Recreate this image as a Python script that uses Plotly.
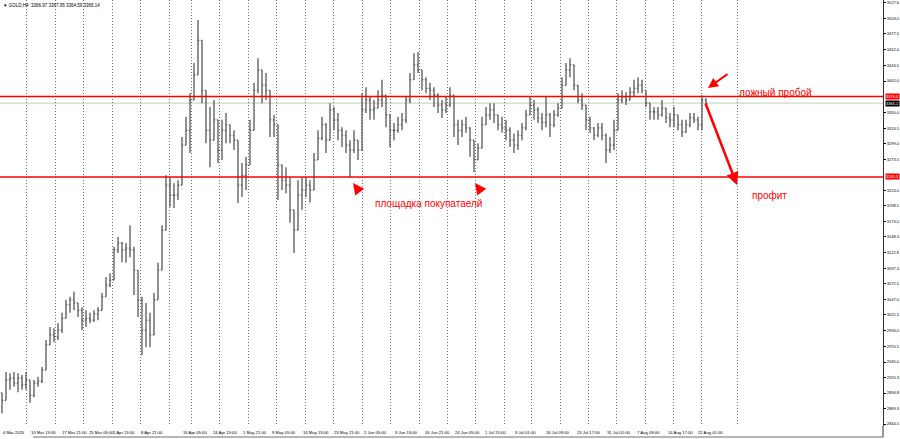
import plotly.graph_objects as go

# ---------------- data (GOLD, H4, 4 Mar 2025 - 22 Aug 2025) -------------
highs = [2888, 2929, 2927, 2929, 2927, 2924, 2929, 2911, 2916, 2921,
         2937, 2981, 3002, 3000, 3008, 3025, 3046, 3051, 3059, 3041,
         3034, 3029, 3025, 3029, 3034, 3057, 3083, 3089, 3132, 3148,
         3140, 3138, 3167, 3132, 3094, 3051, 3041, 3025, 3057, 3106,
         3167, 3248, 3245, 3235, 3240, 3310, 3343, 3381, 3430, 3500,
         3435, 3365, 3359, 3370, 3310, 3338, 3349, 3326, 3321, 3284,
         3268, 3278, 3338, 3398, 3438, 3414, 3414, 3365, 3346, 3300,
         3261, 3261, 3245, 3192, 3240, 3245, 3245, 3240, 3284, 3321,
         3343, 3333, 3365, 3359, 3349, 3326, 3321, 3305, 3321, 3305,
         3381, 3391, 3375, 3370, 3386, 3403, 3370, 3338, 3333, 3343,
         3349, 3375, 3414, 3446, 3448, 3414, 3407, 3398, 3391, 3381,
         3370, 3375, 3391, 3370, 3338, 3338, 3343, 3326, 3294, 3300,
         3343, 3359, 3365, 3365, 3343, 3343, 3338, 3326, 3316, 3321,
         3333, 3354, 3375, 3370, 3359, 3349, 3375, 3349, 3354, 3365,
         3407, 3430, 3438, 3424, 3391, 3381, 3349, 3343, 3326, 3333,
         3333, 3316, 3310, 3338, 3381, 3386, 3383, 3391, 3403, 3407,
         3403, 3386, 3365, 3359, 3359, 3370, 3354, 3349, 3359, 3343,
         3338, 3338, 3349, 3349, 3343, 3378, 3373]

lows = [2862, 2887, 2900, 2905, 2896, 2900, 2900, 2879, 2888, 2905,
        2911, 2932, 2976, 2977, 2981, 2992, 3018, 3025, 3029, 3018,
        2997, 3002, 3008, 3010, 3013, 3029, 3051, 3067, 3094, 3122,
        3107, 3106, 3115, 3054, 3018, 2956, 2969, 2969, 3018, 3046,
        3107, 3192, 3197, 3195, 3208, 3268, 3310, 3284, 3381, 3446,
        3365, 3300, 3261, 3310, 3268, 3273, 3300, 3300, 3289, 3203,
        3213, 3224, 3284, 3354, 3381, 3365, 3370, 3310, 3310, 3208,
        3224, 3219, 3171, 3122, 3171, 3192, 3213, 3204, 3235, 3284,
        3305, 3284, 3317, 3321, 3305, 3294, 3284, 3245, 3284, 3273,
        3326, 3349, 3338, 3338, 3359, 3359, 3326, 3294, 3305, 3317,
        3321, 3333, 3365, 3407, 3414, 3386, 3381, 3370, 3359, 3349,
        3341, 3349, 3359, 3310, 3297, 3310, 3317, 3278, 3253, 3273,
        3294, 3333, 3338, 3333, 3321, 3317, 3305, 3294, 3284, 3289,
        3305, 3321, 3349, 3338, 3333, 3321, 3326, 3310, 3326, 3343,
        3370, 3398, 3407, 3386, 3365, 3354, 3321, 3317, 3305, 3310,
        3305, 3268, 3284, 3289, 3343, 3365, 3362, 3370, 3375, 3381,
        3381, 3359, 3338, 3338, 3338, 3343, 3333, 3326, 3326, 3321,
        3310, 3317, 3326, 3333, 3321, 3321, 3362]

closes = [2883, 2916, 2919, 2911, 2919, 2908, 2916, 2891, 2911, 2914,
          2932, 2973, 2989, 2986, 2997, 3016, 3038, 3046, 3041, 3029,
          3013, 3016, 3013, 3023, 3029, 3051, 3070, 3078, 3127, 3138,
          3127, 3130, 3127, 3094, 3046, 2997, 3013, 2989, 3046, 3094,
          3159, 3232, 3216, 3216, 3232, 3297, 3321, 3370, 3411, 3467,
          3386, 3321, 3305, 3338, 3289, 3321, 3330, 3313, 3305, 3232,
          3248, 3265, 3321, 3386, 3419, 3394, 3386, 3338, 3330, 3265,
          3240, 3232, 3192, 3159, 3216, 3224, 3232, 3224, 3273, 3308,
          3330, 3305, 3354, 3338, 3321, 3313, 3297, 3289, 3305, 3289,
          3354, 3370, 3354, 3357, 3370, 3378, 3346, 3321, 3321, 3330,
          3338, 3370, 3403, 3427, 3419, 3403, 3389, 3386, 3378, 3362,
          3354, 3362, 3378, 3330, 3321, 3330, 3325, 3305, 3273, 3292,
          3330, 3346, 3354, 3346, 3330, 3325, 3321, 3305, 3297, 3313,
          3325, 3346, 3362, 3354, 3341, 3334, 3346, 3330, 3346, 3357,
          3394, 3419, 3427, 3394, 3370, 3362, 3338, 3325, 3313, 3325,
          3313, 3289, 3297, 3321, 3370, 3375, 3370, 3383, 3389, 3394,
          3386, 3365, 3351, 3351, 3346, 3357, 3341, 3338, 3346, 3330,
          3318, 3330, 3341, 3338, 3330, 3370, 3365.14]
first_open = 2895.0

time_labels = ["4 Mar 2025", "10 Mar 13:00", "17 Mar 21:00", "25 Mar 05:00", "1 Apr 13:00",
               "8 Apr 21:00", "16 Apr 05:00", "24 Apr 13:00", "1 May 21:00", "9 May 05:00",
               "16 May 13:00", "23 May 21:00", "2 Jun 05:00", "9 Jun 13:00", "16 Jun 21:00",
               "24 Jun 05:00", "1 Jul 13:00", "9 Jul 01:00", "16 Jul 09:00", "23 Jul 17:00",
               "31 Jul 01:00", "7 Aug 09:00", "14 Aug 17:00", "22 Aug 01:00"]

price_ticks = [3527.6, 3503.0, 3477.5, 3452.0, 3426.5, 3401.0, 3350.0, 3324.5, 3299.0,
               3273.5, 3224.0, 3198.5, 3173.0, 3148.3, 3122.8, 3097.3, 3072.5, 3047.0,
               3021.5, 2996.0, 2970.5, 2945.0, 2920.3, 2894.8, 2869.3, 2844.5]

resistance = 3376.0
support = 3245.3
last_price = 3365.14
title_text = "▼ GOLD,H4  3366.97 3367.95 3364.59 3365.14"

# ---------------- layout constants (screen geometry) ----------------
W, H = 900, 439
ML, MR, MT, MB = 0, 17, 0, 13
PW = W - ML - MR
PH = H - MT - MB
BAR_PX = 4.0                       # pixels per bar


def bx(px):
    """pixel column -> bar index coordinate"""
    return (px - BAR_PX / 2) / BAR_PX


label_px = [1, 29, 60, 87, 111, 139, 181, 211, 241, 270, 301, 332, 362, 393, 423,
            453, 483, 513, 544, 575, 605, 635, 666, 696]
grid_px = [26.7, 55, 83.3, 112.3, 140.7, 169, 191.3, 219.7, 248.3, 276.7, 305.3, 333.3,
           362, 390.3, 419, 447.3, 475.7, 504, 531.7, 560, 588.3, 616.7, 645, 673.3,
           701.7, 737]

y_lo, y_hi = 2841.3, 3532.4
PPX = (y_hi - y_lo) / PH           # price per pixel


def py(pix_y):
    return y_hi - pix_y * PPX


opens = [first_open] + closes[:-1]
hi = [max(h, o, c) for h, o, c in zip(highs, opens, closes)]
lo = [min(l, o, c) for l, o, c in zip(lows, opens, closes)]
idx = list(range(len(closes)))

RED = "#ff0000"
BAR = "#4a4a4a"
FONT = "Liberation Sans, Arial, sans-serif"

fig = go.Figure()
fig.add_trace(go.Ohlc(
    x=idx, open=opens, high=hi, low=lo, close=closes,
    increasing=dict(line=dict(color=BAR, width=1.2)),
    decreasing=dict(line=dict(color=BAR, width=1.2)),
    tickwidth=0.3, hoverinfo="skip", showlegend=False,
))

shapes = [
    dict(type="line", xref="paper", x0=0, x1=1, yref="y", y0=last_price, y1=last_price,
         line=dict(color="#c8c8c8", width=1), layer="below"),
    dict(type="line", xref="paper", x0=0, x1=1, yref="y", y0=resistance, y1=resistance,
         line=dict(color=RED, width=1.5)),
    dict(type="line", xref="paper", x0=0, x1=1, yref="y", y0=support, y1=support,
         line=dict(color=RED, width=1.5)),
    dict(type="line", xref="paper", x0=33 / PW, x1=1, yref="paper", y0=-11 / PH, y1=-11 / PH,
         line=dict(color="#707070", width=1)),
    dict(type="line", xref="paper", x0=1, x1=1, yref="paper", y0=-11 / PH, y1=0,
         line=dict(color="#303030", width=1)),
]

small = dict(family=FONT, size=4.2, color="#000000")
axis_font = dict(family=FONT, size=4.0, color="#000000")
big = dict(family=FONT, size=10, color=RED)

ann = []
for t, p in zip(time_labels, label_px):
    ann.append(dict(x=bx(p), xref="x", y=0, yref="paper", xanchor="left", yanchor="top",
                    yshift=-2, text=t, showarrow=False, font=small))

ann.append(dict(x=0, xref="paper", y=1, yref="paper", xanchor="left", yanchor="top",
                xshift=1, yshift=-1, text=title_text, showarrow=False,
                font=dict(family=FONT, size=4.5, color="#000000")))

# price tags on the right axis
for val, txt, bg in [(resistance, "3376.0", RED), (last_price, "3365.1", "#000000"),
                     (support, "3245.3", RED)]:
    ann.append(dict(x=1, xref="paper", y=val, yref="y", xanchor="left", yanchor="middle",
                    xshift=2, text=txt, showarrow=False, bgcolor=bg, borderpad=0,
                    font=dict(family=FONT, size=4.0, color="#ffffff")))

# texts
ann.append(dict(x=bx(737), y=py(92), xanchor="left", yanchor="middle", text="ложный пробой",
                showarrow=False, font=big))
ann.append(dict(x=bx(750), y=py(195), xanchor="left", yanchor="middle", text="профит",
                showarrow=False, font=big))
ann.append(dict(x=bx(373), y=py(203), xanchor="left", yanchor="middle",
                text="площадка покупатаелй", showarrow=False, font=big))

# arrows
ann.append(dict(x=bx(737), y=py(185), ax=-32, ay=-83, text="", showarrow=True,
                arrowhead=2, arrowsize=1, arrowwidth=2.5, arrowcolor=RED))
ann.append(dict(x=bx(708), y=py(88), ax=21, ay=-15, text="", showarrow=True,
                arrowhead=2, arrowsize=1, arrowwidth=2, arrowcolor=RED))
for px_x in (353, 475):
    ann.append(dict(x=bx(px_x), y=py(183), ax=6, ay=8, text="", showarrow=True,
                    arrowhead=2, arrowsize=1.5, arrowwidth=1.5, arrowcolor=RED))

fig.update_layout(
    width=W, height=H,
    margin=dict(l=ML, r=MR, t=MT, b=MB, pad=0),
    paper_bgcolor="#ffffff", plot_bgcolor="#ffffff",
    showlegend=False, hovermode=False,
    shapes=shapes, annotations=ann,
    xaxis=dict(range=[bx(0), bx(PW)], tickvals=[bx(p) for p in grid_px],
               showticklabels=False, ticks="", showgrid=True, gridcolor="#6e6e6e",
               griddash="1px,2px", gridwidth=1, zeroline=False, showline=False,
               rangeslider=dict(visible=False), fixedrange=True),
    yaxis=dict(side="right", range=[y_lo, y_hi], tickvals=price_ticks,
               ticktext=[f"{v:.1f}" for v in price_ticks], ticks="outside", ticklen=2,
               tickcolor="#000000", tickfont=axis_font, showline=True, linecolor="#303030",
               linewidth=1, showgrid=False, zeroline=False, automargin=False,
               fixedrange=True),
)

fig.write_html("out.html", config=dict(displayModeBar=False),
               post_script="document.body.style.margin='0';document.body.style.overflow='hidden';")
